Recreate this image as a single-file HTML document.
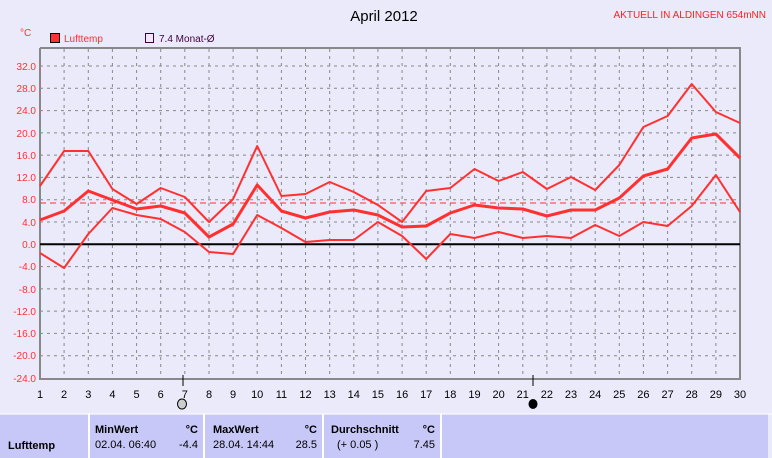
<!DOCTYPE html>
<html><head><meta charset="utf-8"><style>
body{margin:0;width:772px;height:458px;overflow:hidden;background:#eaeafa;font-family:"Liberation Sans",sans-serif}
svg{position:absolute;left:0;top:0}
</style></head><body>
<svg width="772" height="458" xmlns="http://www.w3.org/2000/svg" font-family="Liberation Sans, sans-serif">
<rect width="772" height="458" fill="#eaeafa"/>
<text x="384" y="21" font-size="15" text-anchor="middle" fill="#000">April 2012</text>
<text x="766" y="18" font-size="10" text-anchor="end" fill="#ff2020">AKTUELL IN ALDINGEN 654mNN</text>
<text x="20" y="36" font-size="10" fill="#ff3030">°C</text>
<rect x="50.5" y="33.5" width="9" height="9" fill="#ff3030" stroke="#000"/>
<text x="64" y="42" font-size="10" fill="#ff3030">Lufttemp</text>
<rect x="145.5" y="33.5" width="8" height="9" fill="none" stroke="#400040"/>
<text x="159" y="42" font-size="10" fill="#400040">7.4 Monat-Ø</text>
<g stroke="#888" stroke-dasharray="3,4" stroke-width="1">
<path d="M64.1 49V378M88.3 49V378M112.4 49V378M136.6 49V378M160.7 49V378M184.8 49V378M209 49V378M233.1 49V378M257.2 49V378M281.4 49V378M305.5 49V378M329.7 49V378M353.8 49V378M377.9 49V378M402.1 49V378M426.2 49V378M450.3 49V378M474.5 49V378M498.6 49V378M522.8 49V378M546.9 49V378M571 49V378M595.2 49V378M619.3 49V378M643.4 49V378M667.6 49V378M691.7 49V378M715.9 49V378"/>
<path d="M40 66H740M40 88.3H740M40 110.6H740M40 132.9H740M40 155.1H740M40 177.4H740M40 199.7H740M40 222H740M40 266.6H740M40 288.9H740M40 311.1H740M40 333.4H740M40 355.7H740"/>
</g>
<path d="M40 48V379H740V48H40" fill="none" stroke="#888" stroke-width="2"/>
<line x1="40" y1="244.3" x2="740" y2="244.3" stroke="#000" stroke-width="2"/>
<line x1="40" y1="203" x2="740" y2="203" stroke="#ff3030" stroke-dasharray="6,4"/>
<g font-size="10" fill="#ff3030" text-anchor="end">
<text x="36" y="70">32.0</text><text x="36" y="92">28.0</text><text x="36" y="114">24.0</text><text x="36" y="137">20.0</text><text x="36" y="159">16.0</text><text x="36" y="181">12.0</text><text x="36" y="203">8.0</text><text x="36" y="226">4.0</text><text x="36" y="248">0.0</text><text x="36" y="270">-4.0</text><text x="36" y="293">-8.0</text><text x="36" y="315">-12.0</text><text x="36" y="337">-16.0</text><text x="36" y="359">-20.0</text><text x="36" y="382">-24.0</text>
</g>
<g font-size="11" fill="#000" text-anchor="middle">
<text x="40" y="398">1</text><text x="64.1" y="398">2</text><text x="88.3" y="398">3</text><text x="112.4" y="398">4</text><text x="136.6" y="398">5</text><text x="160.7" y="398">6</text><text x="184.8" y="398">7</text><text x="209" y="398">8</text><text x="233.1" y="398">9</text><text x="257.2" y="398">10</text><text x="281.4" y="398">11</text><text x="305.5" y="398">12</text><text x="329.7" y="398">13</text><text x="353.8" y="398">14</text><text x="377.9" y="398">15</text><text x="402.1" y="398">16</text><text x="426.2" y="398">17</text><text x="450.3" y="398">18</text><text x="474.5" y="398">19</text><text x="498.6" y="398">20</text><text x="522.8" y="398">21</text><text x="546.9" y="398">22</text><text x="571" y="398">23</text><text x="595.2" y="398">24</text><text x="619.3" y="398">25</text><text x="643.4" y="398">26</text><text x="667.6" y="398">27</text><text x="691.7" y="398">28</text><text x="715.9" y="398">29</text><text x="740" y="398">30</text>
</g>
<line x1="183" y1="375" x2="183" y2="386" stroke="#000"/>
<line x1="533" y1="375" x2="533" y2="386" stroke="#000"/>
<ellipse cx="182" cy="404" rx="4.5" ry="5" fill="#ccc" stroke="#000"/>
<ellipse cx="533" cy="404" rx="4.5" ry="5" fill="#000"/>
<g fill="none" stroke="#ff3030" stroke-width="2" stroke-linejoin="round">
<polyline points="40,186 64.1,151 88.3,151 112.4,189 136.6,204 160.7,188 184.8,197 209,222 233.1,199 257.2,146 281.4,196 305.5,194 329.7,182 353.8,192 377.9,205 402.1,222 426.2,191 450.3,188 474.5,169 498.6,181 522.8,172 546.9,189 571,177 595.2,190 619.3,165 643.4,127 667.6,116 691.7,84 715.9,112 740,123"/>
<polyline stroke-width="3" points="40,220 64.1,211 88.3,191 112.4,200 136.6,209 160.7,206 184.8,213 209,237 233.1,224 257.2,185 281.4,211 305.5,218 329.7,212 353.8,210 377.9,215 402.1,227 426.2,226 450.3,213 474.5,205 498.6,208 522.8,209 546.9,216 571,210 595.2,210 619.3,198 643.4,176 667.6,169 691.7,138 715.9,134 740,158"/>
<polyline points="40,253 64.1,268 88.3,234 112.4,208 136.6,215 160.7,219 184.8,232 209,252 233.1,254 257.2,215 281.4,228 305.5,242 329.7,240 353.8,240 377.9,222 402.1,236 426.2,259 450.3,234 474.5,238 498.6,232 522.8,238 546.9,236 571,238 595.2,225 619.3,236 643.4,222 667.6,226 691.7,206 715.9,175 740,212"/>
</g>
<rect x="0" y="414" width="768" height="44" fill="#c8c8f8"/>
<g stroke="#fff" stroke-width="2"><line x1="89" y1="414" x2="89" y2="458"/><line x1="204" y1="414" x2="204" y2="458"/><line x1="323" y1="414" x2="323" y2="458"/><line x1="441" y1="414" x2="441" y2="458"/></g>
<line x1="0" y1="414" x2="772" y2="414" stroke="#fff"/>
<g font-size="11" fill="#000">
<text x="8" y="449" font-weight="bold">Lufttemp</text>
<text x="95" y="433" font-weight="bold">MinWert</text><text x="198" y="433" text-anchor="end" font-weight="bold">°C</text>
<text x="95" y="448">02.04.  06:40</text><text x="198" y="448" text-anchor="end">-4.4</text>
<text x="213" y="433" font-weight="bold">MaxWert</text><text x="317" y="433" text-anchor="end" font-weight="bold">°C</text>
<text x="213" y="448">28.04.  14:44</text><text x="317" y="448" text-anchor="end">28.5</text>
<text x="331" y="433" font-weight="bold">Durchschnitt</text><text x="435" y="433" text-anchor="end" font-weight="bold">°C</text>
<text x="337" y="448">(+ 0.05 )</text><text x="435" y="448" text-anchor="end">7.45</text>
</g>
</svg>
</body></html>
